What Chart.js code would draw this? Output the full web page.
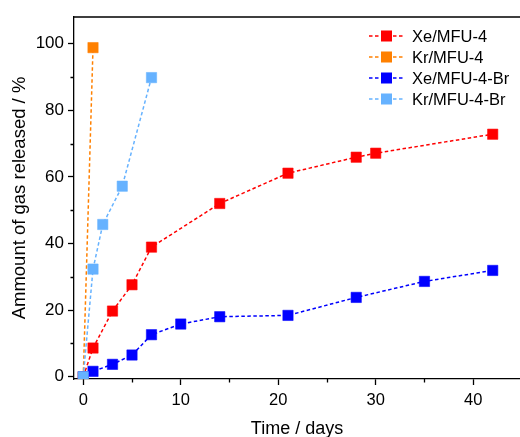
<!DOCTYPE html>
<html>
<head>
<meta charset="utf-8">
<script src="https://cdn.jsdelivr.net/npm/chart.js@4/dist/chart.umd.min.js"></script>
<style>
  html, body { margin: 0; padding: 0; background: #fff; overflow: hidden; }
  #wrap { width: 520px; height: 437px; }
</style>
</head>
<body>
<div id="wrap"><canvas id="grafico"></canvas></div>
<script>
// Liberación de gas en el tiempo (días) para cada MOF
const seriesNombres = ['Xe/MFU-4', 'Kr/MFU-4', 'Xe/MFU-4-Br', 'Kr/MFU-4-Br'];
const seriesColores = ['#ff0000', '#ff8000', '#0000ff', '#66b2ff'];

const diasXeMfu4 = [0, 1, 3, 5, 7, 14, 21, 28, 30, 42];
const xeMfu4 = [0, 8.6, 19.7, 27.6, 38.9, 52.0, 61.1, 65.9, 67.1, 72.8];

const diasKrMfu4 = [0, 1];
const krMfu4 = [0, 98.8];

const diasXeMfu4Br = [0, 1, 3, 5, 7, 10, 14, 21, 28, 35, 42];
const xeMfu4Br = [0, 1.6, 3.7, 6.5, 12.6, 15.8, 18.0, 18.4, 23.8, 28.6, 31.9];

const diasKrMfu4Br = [0, 1, 2, 4, 7];
const krMfu4Br = [0, 32.3, 45.7, 57.2, 89.8];

const ticksX = [0, 10, 20, 30, 40];
const ticksXMenores = [5, 15, 25, 35];
const ticksY = [0, 20, 40, 60, 80, 100];
const ticksYMenores = [10, 30, 50, 70, 90];

const FUENTE = '"Liberation Sans", Arial, sans-serif';

const puntos = (dias, valores) => dias.map((d, i) => ({ x: d, y: valores[i] }));
const datosSeries = [
  puntos(diasXeMfu4, xeMfu4),
  puntos(diasKrMfu4, krMfu4),
  puntos(diasXeMfu4Br, xeMfu4Br),
  puntos(diasKrMfu4Br, krMfu4Br),
];

// el orden 0 queda encima: Kr/MFU-4-Br tapa el origen
const ordenDibujo = [3, 2, 1, 0];

const datasets = datosSeries.map((data, i) => ({
  label: seriesNombres[i],
  data,
  showLine: true,
  order: ordenDibujo[i],
  borderColor: seriesColores[i],
  backgroundColor: seriesColores[i],
  borderWidth: 1.5,
  borderDash: [3.5, 2.5],
  pointStyle: 'rect',
  pointRadius: 7.3,
  pointHoverRadius: 7.3,
  pointBorderWidth: 1,
  pointBorderColor: seriesColores[i] + '88',
}));

// marco superior, ticks menores y leyenda con línea + marcador
const extras = {
  id: 'extras',
  afterDraw(chart) {
    const { ctx, chartArea } = chart;
    const sx = chart.scales.x;
    const sy = chart.scales.y;
    ctx.save();
    ctx.strokeStyle = '#000';
    ctx.lineWidth = 1.3;
    ctx.beginPath();
    ctx.moveTo(chartArea.left, chartArea.top);
    ctx.lineTo(chart.width, chartArea.top);
    ticksXMenores.forEach((v) => {
      const px = Math.round(sx.getPixelForValue(v)) + 0.5;
      ctx.moveTo(px, chartArea.bottom);
      ctx.lineTo(px, chartArea.bottom + 3.5);
    });
    ticksYMenores.forEach((v) => {
      const py = Math.round(sy.getPixelForValue(v)) + 0.5;
      ctx.moveTo(chartArea.left, py);
      ctx.lineTo(chartArea.left - 3.5, py);
    });
    ctx.stroke();

    ctx.font = '16.5px ' + FUENTE;
    ctx.textBaseline = 'middle';
    ctx.textAlign = 'left';
    seriesNombres.forEach((nombre, i) => {
      const y = 36 + i * 21;
      ctx.strokeStyle = seriesColores[i];
      ctx.lineWidth = 1.5;
      ctx.setLineDash([3.5, 2.5]);
      ctx.beginPath();
      ctx.moveTo(369, y);
      ctx.lineTo(404, y);
      ctx.stroke();
      ctx.setLineDash([]);
      ctx.fillStyle = seriesColores[i];
      ctx.fillRect(381, y - 5.5, 11, 11);
      ctx.fillStyle = '#000';
      ctx.fillText(nombre, 412, y + 1);
    });
    ctx.restore();
  },
};

new Chart(document.getElementById('grafico'), {
  type: 'scatter',
  data: { datasets },
  plugins: [extras],
  options: {
    responsive: true,
    maintainAspectRatio: false,
    animation: false,
    events: [],
    layout: { autoPadding: false, padding: { top: 17, right: 0, left: 0, bottom: 0 } },
    plugins: { legend: { display: false }, tooltip: { enabled: false } },
    scales: {
      x: {
        type: 'linear',
        min: -0.95,
        max: 44.8,
        afterBuildTicks: (s) => { s.ticks = ticksX.map((v) => ({ value: v })); },
        afterFit: (s) => {
          s.height = 58;
          s.paddingLeft = 0;
          s.paddingRight = 0;
        },
        grid: { display: true, drawOnChartArea: false, drawTicks: true, tickLength: 6, tickWidth: 1.3, tickColor: '#000' },
        border: { display: true, color: '#000', width: 1.3 },
        ticks: { color: '#000', font: { size: 16.5, family: FUENTE }, padding: 6, maxRotation: 0 },
        title: { display: true, text: 'Time / days', color: '#000', font: { size: 18, family: FUENTE }, padding: { top: 0, bottom: -3 } },
      },
      y: {
        type: 'linear',
        min: -0.7,
        max: 108,
        afterBuildTicks: (s) => { s.ticks = ticksY.map((v) => ({ value: v })); },
        afterFit: (s) => { s.width = 74; },
        grid: { display: true, drawOnChartArea: false, drawTicks: true, tickLength: 6, tickWidth: 1.3, tickColor: '#000' },
        border: { display: true, color: '#000', width: 1.3 },
        ticks: { color: '#000', font: { size: 17, family: FUENTE }, padding: 4 },
        title: { display: true, text: 'Ammount of gas released / %', color: '#000', font: { size: 18.5, family: FUENTE }, padding: { top: 9, bottom: 0 } },
      },
    },
  },
});
</script>
</body>
</html>
